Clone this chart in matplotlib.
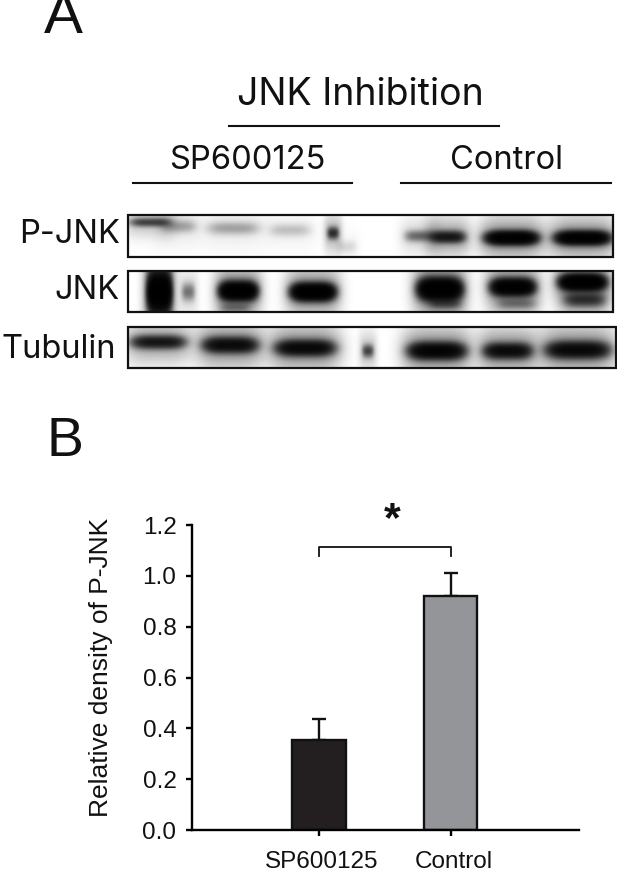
import numpy as np
import matplotlib
matplotlib.use("Agg")
import matplotlib.pyplot as plt
from matplotlib.patches import Rectangle
from matplotlib.transforms import ScaledTranslation

plt.rcParams["font.family"] = ["Liberation Sans", "DejaVu Sans"]

groups = ["SP600125", "Control"]
density = [0.355, 0.92]
density_err = [0.082, 0.092]
y_ticks = [0.0, 0.2, 0.4, 0.6, 0.8, 1.0, 1.2]

blot_names = ["P-JNK", "JNK", "Tubulin"]
blot_boxes = [(128, 215, 613, 257), (128, 271, 613, 312), (128, 327, 616, 368)]

# bands per blot: centre x, centre y, half width, half height, darkness
pjnk_x = [150, 178, 233, 290, 333, 347, 420, 448, 512, 583]
pjnk_y = [222, 226, 228, 230, 233, 247, 236, 237, 238, 238]
pjnk_w = [19, 17, 25, 20, 5, 9, 14, 16, 24, 25]
pjnk_h = [3.5, 6, 6, 6, 5, 6, 5, 5, 5.5, 5.5]
pjnk_d = [1.3, 0.4, 0.4, 0.25, 1.6, 0.15, 0.8, 2.2, 5.0, 5.0]

jnk_x = [159, 188, 238, 235, 313, 440, 445, 513, 517, 583, 585]
jnk_y = [292, 292, 291, 308, 292, 289, 304, 287, 304, 282, 300]
jnk_w = [11, 6, 17, 14, 20, 20, 15, 20, 18, 21, 19]
jnk_h = [18, 8, 7.5, 3.5, 7, 9, 4.5, 7, 4.5, 6.5, 6]
jnk_d = [6.0, 0.7, 6.0, 0.5, 6.0, 6.0, 0.7, 5.0, 0.5, 6.0, 1.3]

tub_x = [158, 230, 305, 368, 437, 508, 578]
tub_y = [342, 345, 348, 351, 351, 351, 350]
tub_w = [25, 25, 27, 5, 26, 22, 29]
tub_h = [5.5, 6.5, 6.5, 5.5, 7, 6.5, 7]
tub_d = [2.2, 2.8, 3.0, 1.2, 3.6, 2.8, 3.0]


def draw_blot(ax, box, xs, ys, ws, hs, ds):
    x0, y0, x1, y1 = box
    gx, gy = np.meshgrid(np.arange(x0, x1 + 1), np.arange(y0, y1 + 1))
    od = np.zeros(gx.shape)
    for x, y, w, h, d in zip(xs, ys, ws, hs, ds):
        od += d * np.exp(-np.abs((gx - x) / w) ** 4 - ((gy - y) / h) ** 2)
        # soft smear round each band
        amp = min(d, 3) * 0.2
        od += amp * np.exp(-np.abs((gx - x) / (w * 1.2 + 3)) ** 4 - ((gy - y) / (h * 2.5 + 6)) ** 2)
    kernel = np.exp(-np.arange(-4, 5) ** 2 / (2 * 1.4 ** 2))
    kernel /= kernel.sum()
    pad = np.pad(od, 4, mode="edge")
    pad = np.apply_along_axis(lambda r: np.convolve(r, kernel, mode="same"), 0, pad)
    pad = np.apply_along_axis(lambda r: np.convolve(r, kernel, mode="same"), 1, pad)
    od = pad[4:-4, 4:-4]
    ax.imshow(np.exp(-od), cmap="gray", vmin=0, vmax=1, extent=(x0, x1, y1, y0),
              interpolation="bilinear", aspect="auto", zorder=1)
    ax.add_patch(Rectangle((x0, y0), x1 - x0, y1 - y0, fill=False, ec="#111111", lw=1.6, zorder=2))


fig = plt.figure(figsize=(6.17, 8.71), dpi=100)

# panel A lives on a pixel-sized overlay
page = fig.add_axes([0, 0, 1, 1])
page.set_xlim(0, 617)
page.set_ylim(871, 0)
page.axis("off")

blot_data = [
    (pjnk_x, pjnk_y, pjnk_w, pjnk_h, pjnk_d),
    (jnk_x, jnk_y, jnk_w, jnk_h, jnk_d),
    (tub_x, tub_y, tub_w, tub_h, tub_d),
]
for box, bands in zip(blot_boxes, blot_data):
    draw_blot(page, box, *bands)
page.set_xlim(0, 617)
page.set_ylim(871, 0)

page.text(63, 33, "A", fontsize=42, ha="center", va="baseline", color="#111111")
page.text(64.5, 456, "B", fontsize=40, ha="center", va="baseline", color="#111111")

page.text(360, 105, "JNK Inhibition", fontsize=27, family="Inter", ha="center", va="baseline", color="#111111")
page.text(247, 169, groups[0], fontsize=23.5, family="Inter", ha="center", va="baseline", color="#111111")
page.text(507, 169, groups[1], fontsize=23.5, family="Inter", ha="center", va="baseline", color="#111111")
page.plot([229, 499], [126, 126], color="#111111", lw=1.5)
page.plot([133, 352], [183, 183], color="#111111", lw=1.5)
page.plot([401, 611], [183, 183], color="#111111", lw=1.5)

label_right = [120, 120, 116]
label_base = [243, 299, 358]
for name, r, b in zip(blot_names, label_right, label_base):
    page.text(r, b, name, fontsize=23.5, family="Inter", ha="right", va="baseline", color="#111111")

# panel B
ax = fig.add_axes([192 / 617, (871 - 830) / 871, (579 - 192) / 617, 305 / 871])
x = np.arange(len(groups))
ax.bar(x, density, width=0.41, color=["#231f20", "#939598"], edgecolor="#111111", linewidth=1.7, zorder=2)
ax.errorbar(x, density, yerr=[[0, 0], density_err], fmt="none", ecolor="#111111",
            elinewidth=1.7, capsize=4.7, capthick=1.7, zorder=1)
ax.set_xlim(-0.966, 1.977)
ax.set_ylim(0, 1.2)
ax.set_yticks(y_ticks)
ax.set_yticklabels([f"{v:.1f}" for v in y_ticks], fontsize=17.5, color="#111111")
ax.set_xticks(x)
ax.set_xticklabels(groups, fontsize=17.5, color="#111111")
ax.tick_params(axis="y", length=4.2, width=1.7, pad=7)
ax.tick_params(axis="x", length=4, width=1.7, pad=11)
for t in ax.get_xticklabels():
    t.set_transform(t.get_transform() + ScaledTranslation(3 / 100, 0, fig.dpi_scale_trans))
ax.spines["top"].set_visible(False)
ax.spines["right"].set_visible(False)
ax.spines["left"].set_linewidth(1.7)
ax.spines["bottom"].set_linewidth(1.7)
ax.patch.set_alpha(0)

ax.set_ylabel("Relative density of P-JNK", fontsize=19, color="#111111")
ax.yaxis.set_label_coords(-0.204, 0.534)

# significance bracket
ax.plot([0, 0, 1, 1], [1.078, 1.115, 1.115, 1.078], color="#111111", lw=1.3, clip_on=False)
ax.text(0.555, 1.22, "*", fontsize=31, fontweight="bold", ha="center", va="center", color="#111111")

fig.savefig("out.png", dpi=100)
